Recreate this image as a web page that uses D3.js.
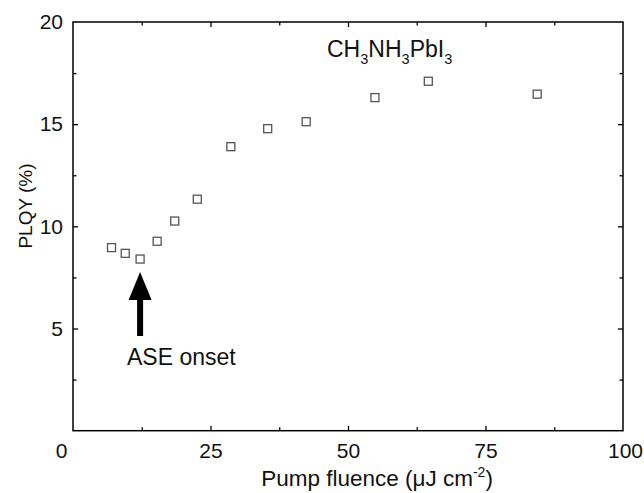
<!DOCTYPE html>
<html>
<head>
<meta charset="utf-8">
<script src="https://cdn.jsdelivr.net/npm/d3@7"></script>
<style>
  html, body { margin: 0; padding: 0; background: #fff; }
  svg { display: block; font-family: "Liberation Sans", Arial, Helvetica, sans-serif; }
</style>
</head>
<body>
<svg id="chart" width="644" height="493"></svg>
<script>
// Data
const fluence = [7.0, 9.5, 12.2, 15.3, 18.5, 22.6, 28.7, 35.4, 42.4, 54.9, 64.6, 84.4];
const plqy    = [8.96, 8.68, 8.40, 9.27, 10.26, 11.33, 13.9, 14.78, 15.12, 16.30, 17.10, 16.47];
const xTicks = [0, 25, 50, 75, 100];
const xMinor = [12.5, 37.5, 62.5, 87.5];
const yTicks = [5, 10, 15, 20];
const yMinor = [2.5, 7.5, 12.5, 17.5];
const onset = { x: 12.2, yTip: 7.77, yBase: 4.63, label: "ASE onset" };
const compound = [["CH", false], ["3", true], ["NH", false], ["3", true], ["PbI", false], ["3", true]];

(function () {
const svg = d3.select("#chart");
const mL = 73, mR = 623, mT = 22, mB = 430.7;
const x = d3.scaleLinear().domain([0, 100]).range([mL, mR]);
const y = d3.scaleLinear().domain([0, 20]).range([mB, mT]);

// Frame
svg.append("rect").attr("x", mL).attr("y", mT)
  .attr("width", mR - mL).attr("height", mB - mT)
  .attr("fill", "none").attr("stroke", "#000").attr("stroke-width", 1.5);

function styleAxis(g) {
  g.select(".domain").remove();
  g.selectAll(".tick line").attr("stroke", "#000").attr("stroke-width", 1.3);
  g.selectAll(".tick text").attr("fill", "#111").style("font-size", "21px")
    .style("font-family", '"Liberation Sans", Arial, sans-serif');
}

// Bottom axis (ticks inward)
const gx = svg.append("g").attr("transform", `translate(0,${mB})`)
  .call(d3.axisBottom(x).tickValues(xTicks).tickSizeInner(-5).tickSizeOuter(0).tickPadding(12).tickFormat(d3.format("d")));
styleAxis(gx);
gx.selectAll(".tick").filter(d => d === 0 || d === 100).select("line").remove();
gx.selectAll(".tick").filter(d => d === 0).select("text").attr("dx", -12);
gx.selectAll(".tick").filter(d => d === 100).select("text").attr("dx", 2);
svg.append("g").attr("transform", `translate(0,${mB})`)
  .call(d3.axisBottom(x).tickValues(xMinor).tickSizeInner(-3.5).tickSizeOuter(0).tickFormat(""))
  .call(styleAxis);
// Top axis mirror ticks
svg.append("g").attr("transform", `translate(0,${mT})`)
  .call(d3.axisTop(x).tickValues(xTicks.slice(1, -1)).tickSizeInner(-5).tickSizeOuter(0).tickFormat(""))
  .call(styleAxis);
svg.append("g").attr("transform", `translate(0,${mT})`)
  .call(d3.axisTop(x).tickValues(xMinor).tickSizeInner(-3.5).tickSizeOuter(0).tickFormat(""))
  .call(styleAxis);

// Left axis
const gy = svg.append("g").attr("transform", `translate(${mL},0)`)
  .call(d3.axisLeft(y).tickValues(yTicks).tickSizeInner(-5).tickSizeOuter(0).tickPadding(10).tickFormat(d3.format("d")));
styleAxis(gy);
gy.selectAll(".tick").filter(d => d === 20).select("line").remove();
svg.append("g").attr("transform", `translate(${mL},0)`)
  .call(d3.axisLeft(y).tickValues(yMinor).tickSizeInner(-3.5).tickSizeOuter(0).tickFormat(""))
  .call(styleAxis);
// Right axis mirror ticks
svg.append("g").attr("transform", `translate(${mR},0)`)
  .call(d3.axisRight(y).tickValues(yTicks.slice(0, -1)).tickSizeInner(-5).tickSizeOuter(0).tickFormat(""))
  .call(styleAxis);
svg.append("g").attr("transform", `translate(${mR},0)`)
  .call(d3.axisRight(y).tickValues(yMinor).tickSizeInner(-3.5).tickSizeOuter(0).tickFormat(""))
  .call(styleAxis);

// Axis titles
const xt = svg.append("text").attr("x", 377).attr("y", 486).attr("text-anchor", "middle")
  .style("font-size", "22.5px").attr("fill", "#111");
xt.append("tspan").text("Pump fluence (\u03BCJ cm");
xt.append("tspan").text("-2").style("font-size", "14px").attr("dy", -9);
xt.append("tspan").text(")").attr("dy", 9);

svg.append("text").attr("transform", "translate(32,206) rotate(-90)")
  .attr("text-anchor", "middle").style("font-size", "19px").attr("fill", "#111")
  .text("PLQY (%)");

// Compound label
const ct = svg.append("text").attr("x", 327).attr("y", 57).attr("fill", "#111");
compound.forEach(([t, sub], i) => {
  ct.append("tspan").text(t).style("font-size", sub ? "14.5px" : "23px")
    .attr("dy", i === 0 ? 0 : (sub ? 6.5 : -6.5));
});

// Data markers
const s = 8;
svg.append("g").selectAll("rect").data(fluence.map((f, i) => [f, plqy[i]]))
  .join("rect")
  .attr("x", d => x(d[0]) - s / 2).attr("y", d => y(d[1]) - s / 2)
  .attr("width", s).attr("height", s)
  .attr("fill", "#fff").attr("stroke", "#555").attr("stroke-width", 1.3);

// ASE onset arrow
const ax = x(onset.x), tipY = y(onset.yTip), baseY = y(onset.yBase);
const headH = 28, headW = 23, shaftW = 6;
svg.append("path")
  .attr("d", `M${ax},${tipY} L${ax + headW / 2},${tipY + headH} L${ax + shaftW / 2},${tipY + headH} L${ax + shaftW / 2},${baseY} L${ax - shaftW / 2},${baseY} L${ax - shaftW / 2},${tipY + headH} L${ax - headW / 2},${tipY + headH} Z`)
  .attr("fill", "#000");
svg.append("text").attr("x", 127).attr("y", 365).style("font-size", "23px").attr("fill", "#111")
  .text(onset.label);
})();
</script>
</body>
</html>
